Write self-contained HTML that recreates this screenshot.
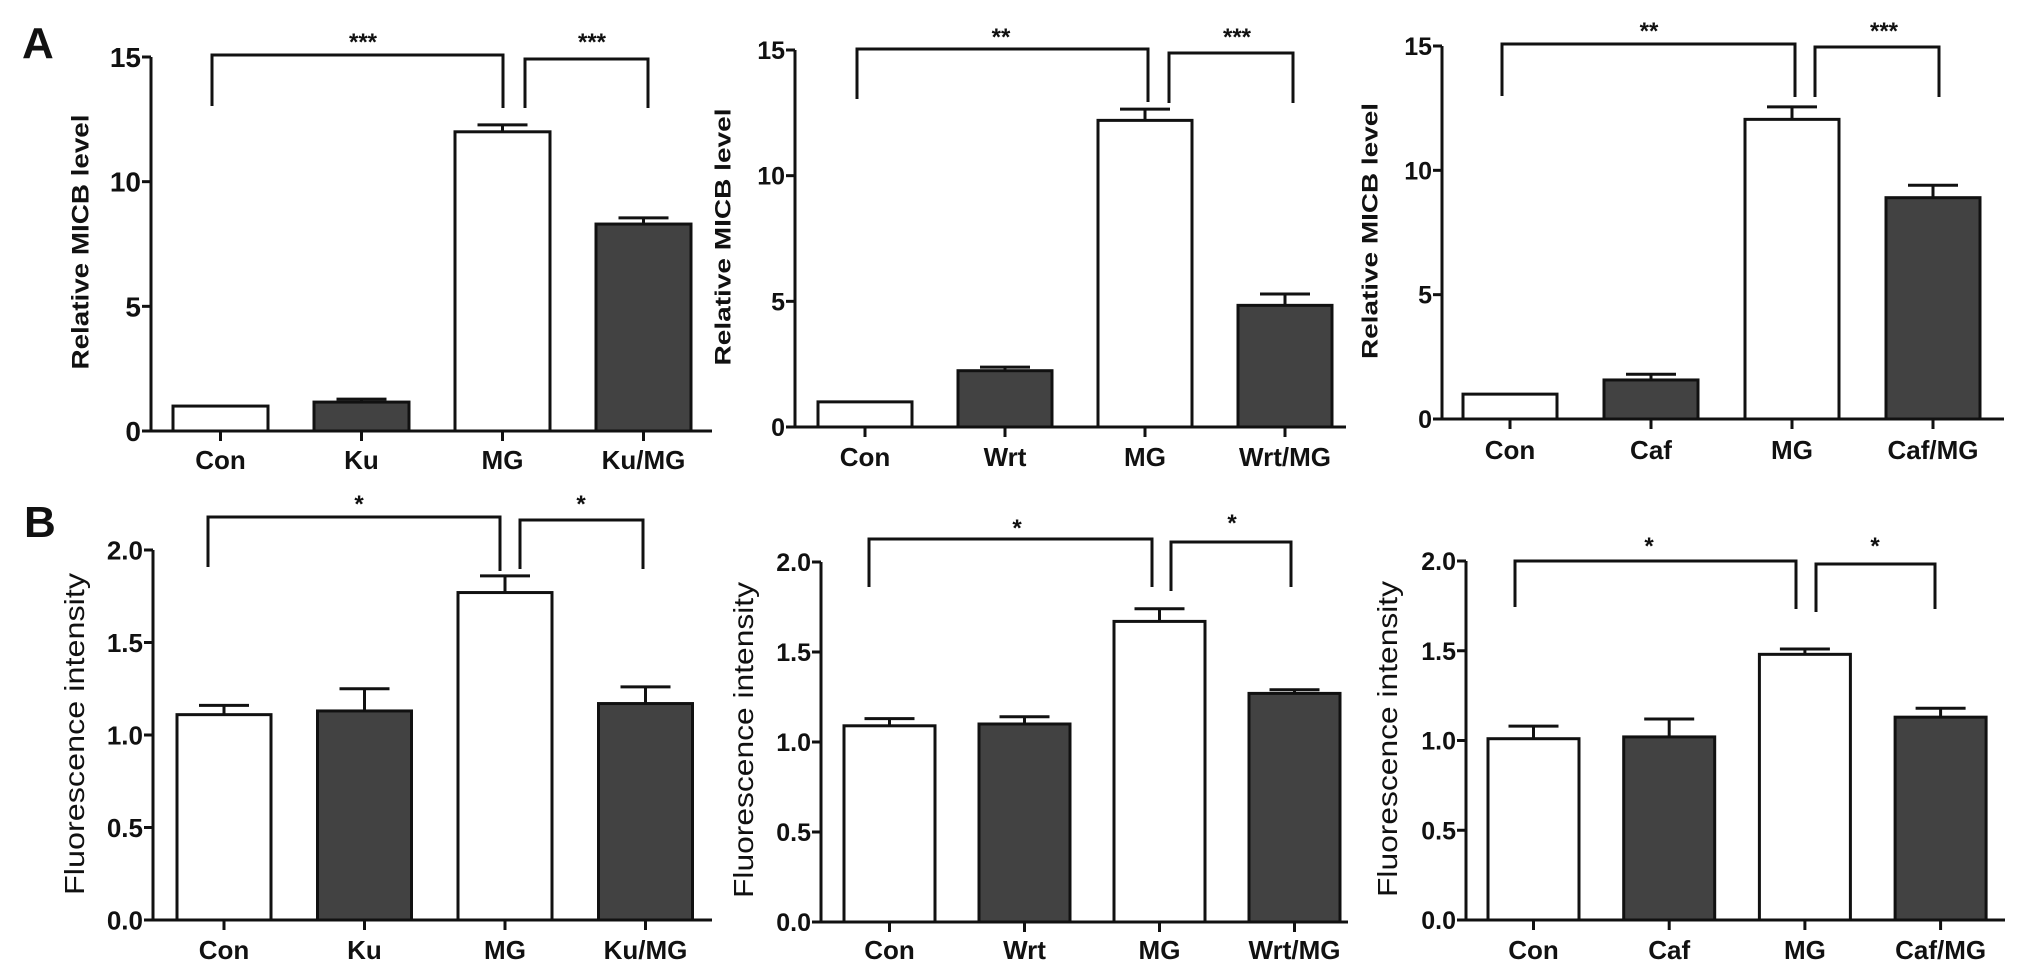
<!DOCTYPE html>
<html><head><meta charset="utf-8"><style>
html,body{margin:0;padding:0;background:#fff}
svg{display:block}
text{font-family:"Liberation Sans",Arial,sans-serif;fill:#111}
</style></head><body>
<svg id="fig" width="2031" height="975" viewBox="0 0 2031 975" xmlns="http://www.w3.org/2000/svg">
<text x="22" y="58" font-size="44" font-weight="bold">A</text>
<text x="24" y="537" font-size="44" font-weight="bold">B</text>
</svg>
<script>
// ---- data ----
var catsKu = ["Con","Ku","MG","Ku/MG"];
var catsWrt = ["Con","Wrt","MG","Wrt/MG"];
var catsCaf = ["Con","Caf","MG","Caf/MG"];
var fills = ["white","dark","white","dark"];
var a1Values = [1.0, 1.16, 12.0, 8.3];
var a1Errors = [0.0, 0.12, 0.28, 0.25];
var a2Values = [1.0, 2.24, 12.2, 4.84];
var a2Errors = [0.0, 0.14, 0.45, 0.45];
var a3Values = [1.0, 1.57, 12.05, 8.9];
var a3Errors = [0.0, 0.23, 0.5, 0.5];
var b1Values = [1.11, 1.13, 1.77, 1.17];
var b1Errors = [0.05, 0.12, 0.09, 0.09];
var b2Values = [1.09, 1.10, 1.67, 1.27];
var b2Errors = [0.04, 0.04, 0.07, 0.02];
var b3Values = [1.01, 1.02, 1.48, 1.13];
var b3Errors = [0.07, 0.10, 0.03, 0.05];
var aTicks = [0, 5, 10, 15];
var aTickLabels = ["0","5","10","15"];
var bTicks = [0, 0.5, 1.0, 1.5, 2.0];
var bTickLabels = ["0.0","0.5","1.0","1.5","2.0"];
var aStars = ["***","***"];
var a23Stars = ["**","***"];
var bStars = ["*","*"];

// ---- layout ----
var NS = "http://www.w3.org/2000/svg";
var svg = document.getElementById("fig");
function mk(tag, attrs, parent){ var e=document.createElementNS(NS,tag); for(var k in attrs) e.setAttribute(k,attrs[k]); (parent||svg).appendChild(e); return e; }

var panels = [
 {id:"a1", cats:catsKu, vals:a1Values, errs:a1Errors, ticks:aTicks, tl:aTickLabels, max:15, ax:151, yTop:57, y0:431, x0:173, step:141, bw:95, xEnd:712, tfs:28, title:"Relative MICB level", tx:80, tyc:242, tlen:255, tfsT:24, tw:"bold", labY:469, stars:aStars, br:[[212,503,55,106,108],[525,648,59,108,108]], starY:[40,40], starX:[363,592]},
 {id:"a2", cats:catsWrt, vals:a2Values, errs:a2Errors, ticks:aTicks, tl:aTickLabels, max:15, ax:795, yTop:50, y0:427, x0:818, step:140, bw:94, xEnd:1346, tfs:25, title:"Relative MICB level", tx:723, tyc:237, tlen:257, tfsT:22, tw:"bold", labY:466, stars:a23Stars, br:[[857,1148,49,99,102],[1169,1293,53,103,103]], starY:[35,35], starX:[1001,1237]},
 {id:"a3", cats:catsCaf, vals:a3Values, errs:a3Errors, ticks:aTicks, tl:aTickLabels, max:15, ax:1442, yTop:46, y0:419, x0:1463, step:141, bw:94, xEnd:2004, tfs:25, title:"Relative MICB level", tx:1370, tyc:231, tlen:256, tfsT:22, tw:"bold", labY:459, stars:a23Stars, br:[[1502,1795,44,96,97],[1815,1939,47,97,97]], starY:[29,29], starX:[1649,1884]},
 {id:"b1", cats:catsKu, vals:b1Values, errs:b1Errors, ticks:bTicks, tl:bTickLabels, max:2, ax:153, yTop:550, y0:920, x0:177, step:140.5, bw:94, xEnd:712, tfs:26, title:"Fluorescence intensity", tx:74, tyc:734, tlen:322, tfsT:28, tw:"normal", labY:959, stars:bStars, br:[[208,500,517,567,571],[520,643,520,569,569]], starY:[502,502], starX:[359,581]},
 {id:"b2", cats:catsWrt, vals:b2Values, errs:b2Errors, ticks:bTicks, tl:bTickLabels, max:2, ax:821, yTop:562, y0:922, x0:844, step:135, bw:91, xEnd:1348, tfs:25, title:"Fluorescence intensity", tx:743, tyc:740, tlen:316, tfsT:28, tw:"normal", labY:959, stars:bStars, br:[[869,1152,539,587,587],[1171,1291,542,591,587]], starY:[526,521], starX:[1017,1232]},
 {id:"b3", cats:catsCaf, vals:b3Values, errs:b3Errors, ticks:bTicks, tl:bTickLabels, max:2, ax:1466, yTop:561, y0:920, x0:1488, step:135.7, bw:91, xEnd:2005, tfs:25, title:"Fluorescence intensity", tx:1387, tyc:739, tlen:316, tfsT:28, tw:"normal", labY:959, stars:bStars, br:[[1515,1796,561,607,609],[1816,1935,564,612,609]], starY:[544,544], starX:[1649,1875]}
];

panels.forEach(function(p){
  var g = mk("g",{});
  
  
  function yS(v){ return p.y0 - v/p.max*(p.y0-p.yTop); }
  function xS(i){ return p.x0 + i*p.step; }
  // y axis
  var ya = mk("line",{x1:p.ax,y1:p.yTop,x2:p.ax,y2:p.y0+1.5,stroke:"#111","stroke-width":3},g);
  
  
  p.ticks.forEach(function(t,i){
    var y=yS(t);
    mk("line",{x1:p.ax-9,y1:y,x2:p.ax,y2:y,stroke:"#111","stroke-width":3},g);
    var tx = mk("text",{x:p.ax-10,y:y+p.tfs*0.36,"font-size":p.tfs,"font-weight":"bold","text-anchor":"end"},g);
    tx.textContent = p.tl[i];
    
    
  });
  // x axis
  var xa = mk("line",{x1:p.ax-1.5,y1:p.y0,x2:p.xEnd,y2:p.y0,stroke:"#111","stroke-width":3},g);
  
  
  // title
  var tt = mk("text",{x:p.tx,y:p.tyc,"font-size":p.tfsT,"font-weight":p.tw,"text-anchor":"middle",transform:"rotate(-90 "+p.tx+" "+p.tyc+")",textLength:p.tlen,lengthAdjust:"spacingAndGlyphs",dy:p.tfsT*0.35},g);
  tt.textContent = p.title;
  
  
  // bars
  p.vals.forEach(function(v,i){
    var x=xS(i), cx=x+p.bw/2, yt=yS(v);
    var r = mk("rect",{x:x,y:yt,width:p.bw,height:p.y0-yt,fill:fills[i]=="dark"?"#424242":"#fff",stroke:"#111","stroke-width":3},g);
    
    
    if(p.errs[i]>0){
      var ye=yS(v+p.errs[i]);
      var e1=mk("line",{x1:cx,y1:yt,x2:cx,y2:ye,stroke:"#111","stroke-width":3},g);
      
      
      var e2=mk("line",{x1:cx-25,y1:ye,x2:cx+25,y2:ye,stroke:"#111","stroke-width":3},g);
      
      
    }
    mk("line",{x1:cx,y1:p.y0,x2:cx,y2:p.y0+10,stroke:"#111","stroke-width":3},g);
    var lb=mk("text",{x:cx,y:p.labY,"font-size":26,"font-weight":"bold","text-anchor":"middle"},g);
    lb.textContent=p.cats[i];
    
    
  });
  // brackets
  p.br.forEach(function(b,k){
    var pl=mk("polyline",{points:b[0]+","+b[3]+" "+b[0]+","+b[2]+" "+b[1]+","+b[2]+" "+b[1]+","+b[4],fill:"none",stroke:"#111","stroke-width":3},g);
    
    
    var st=mk("text",{x:p.starX[k],y:p.starY[k]+10,"font-size":24,"font-weight":"bold","text-anchor":"middle"},g);
    st.textContent=p.stars[k];
    
    
  });
});
</script>
</body></html>
